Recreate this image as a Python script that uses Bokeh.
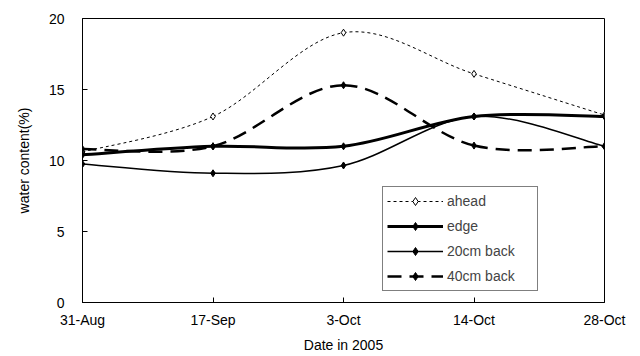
from bokeh.plotting import figure
from bokeh.models import Range1d, FixedTicker, Legend, LegendItem, ColumnDataSource
from bokeh.embed import file_html
from bokeh.resources import INLINE

# ---- data ----
dates = ["31-Aug", "17-Sep", "3-Oct", "14-Oct", "28-Oct"]
ahead = [10.6, 13.1, 19.0, 16.1, 13.2]
edge = [10.4, 11.0, 11.0, 13.1, 13.1]
back20 = [9.75, 9.1, 9.65, 13.1, 11.0]
back40 = [10.8, 11.0, 15.3, 11.05, 11.0]
y_ticks = [0, 5, 10, 15, 20]

FONT = "Liberation Sans"

p = figure(width=640, height=356, output_backend="svg", toolbar_location=None,
           x_range=Range1d(0, 4), y_range=Range1d(0, 20),
           min_border_left=82, min_border_right=36, min_border_top=18, min_border_bottom=54)
p.title.visible = False
p.outline_line_color = "black"
p.outline_line_width = 1
p.grid.visible = False
p.background_fill_color = "white"
p.border_fill_color = "white"
# off-screen range used only so legend-only line renderers carry data but are not visible
p.extra_x_ranges = {"legend_only": Range1d(100, 104)}

xs = list(range(len(dates)))
p.xaxis.ticker = FixedTicker(ticks=xs)
p.xaxis.major_label_overrides = {i: d for i, d in enumerate(dates)}
p.yaxis.ticker = FixedTicker(ticks=y_ticks)
for ax in (p.xaxis, p.yaxis):
    ax.major_tick_in = 5
    ax.major_tick_out = 0
    ax.minor_tick_line_color = None
    ax.axis_line_color = "black"
    ax.major_label_text_font = FONT
    ax.major_label_text_font_size = "14px"
    ax.major_label_text_color = "black"
    ax.axis_label_text_font = FONT
    ax.axis_label_text_font_size = "14px"
    ax.axis_label_text_font_style = "normal"
    ax.axis_label_text_color = "black"
p.xaxis.axis_label = "Date in 2005"
p.yaxis.axis_label = "water content(%)"
p.xaxis.major_label_standoff = 9
p.yaxis.major_label_standoff = 18
p.xaxis.axis_label_standoff = 6
p.yaxis.axis_label_standoff = 14


def smooth_segments(x, y):
    n = len(x)
    d = dict(x0=[], y0=[], x1=[], y1=[], cx0=[], cy0=[], cx1=[], cy1=[])
    for i in range(n - 1):
        im1 = max(i - 1, 0)
        ip2 = min(i + 2, n - 1)
        d["x0"].append(x[i]); d["y0"].append(y[i])
        d["x1"].append(x[i + 1]); d["y1"].append(y[i + 1])
        d["cx0"].append(x[i] + (x[i + 1] - x[im1]) / 6.0)
        d["cy0"].append(y[i] + (y[i + 1] - y[im1]) / 6.0)
        d["cx1"].append(x[i + 1] - (x[ip2] - x[i]) / 6.0)
        d["cy1"].append(y[i + 1] - (y[ip2] - y[i]) / 6.0)
    return ColumnDataSource(d)


styles = [
    ("ahead", ahead, dict(line_width=1, line_dash="3 3"), dict(fill_color="white", size=7, line_width=1)),
    ("edge", edge, dict(line_width=3), dict(fill_color="black", size=7)),
    ("20cm back", back20, dict(line_width=1.5), dict(fill_color="black", size=7)),
    ("40cm back", back40, dict(line_width=2.5, line_dash="14 8"), dict(fill_color="black", size=7)),
]

legend_lines = []
for label, ys, lstyle, mstyle in styles:
    p.bezier(x0="x0", y0="y0", x1="x1", y1="y1", cx0="cx0", cy0="cy0", cx1="cx1", cy1="cy1",
             source=smooth_segments(xs, ys), line_color="black", **lstyle)
    legend_lines.append(p.line(x=xs, y=ys, line_color="black", x_range_name="legend_only", **lstyle))

marker_renderers = []
for label, ys, lstyle, mstyle in styles:
    marker_renderers.append(p.scatter(x=xs, y=ys, marker="diamond", line_color="black", **mstyle))

legend = Legend(items=[LegendItem(label=s[0], renderers=[l, m])
                       for s, l, m in zip(styles, legend_lines, marker_renderers)],
                location=(300, 11))
legend.border_line_color = "black"
legend.border_line_width = 1
legend.background_fill_color = "white"
legend.background_fill_alpha = 1
legend.label_text_font = FONT
legend.label_text_font_size = "14px"
legend.glyph_width = 56
legend.glyph_height = 20
legend.label_height = 20
legend.label_width = 86
legend.label_standoff = 4
legend.spacing = 5
legend.padding = 4
legend.margin = 0
p.add_layout(legend)

open("out.html", "w").write(file_html(p, INLINE))
